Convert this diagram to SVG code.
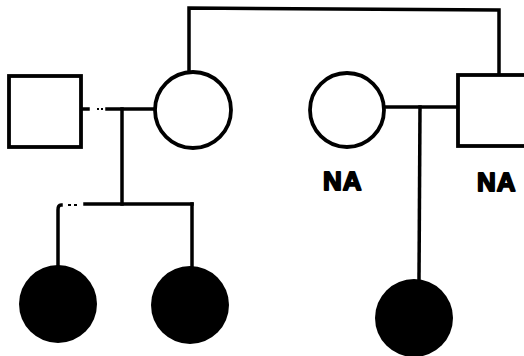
<svg xmlns="http://www.w3.org/2000/svg" width="524" height="356" viewBox="0 0 524 356">
  <style>
    .line { fill: none; stroke: #000; stroke-width: 3.5; stroke-linecap: square; }
    .dot { fill: none; stroke: #000; stroke-width: 2; }
    .open { fill: #fff; stroke: #000; stroke-width: 3.8; }
    .filled { fill: #000; stroke: none; }
    .label { font-family: "Liberation Sans", Arial, sans-serif; font-weight: bold; font-size: 26px; letter-spacing: 1px; fill: #000; stroke: #000; stroke-width: 1.8; stroke-linejoin: round; }
  </style>
  <rect width="524" height="356" fill="#fff"/>

  <g id="connectors">
    <!-- sibling line joining the two generation-I individuals -->
    <polyline class="line" points="189,70 189,8 499,10 499,74"/>
    <!-- mating line (left couple), with a broken segment -->
    <line class="line" x1="82" y1="109" x2="88" y2="109"/>
    <line class="dot" x1="97" y1="109" x2="99" y2="109"/>
    <line class="dot" x1="101" y1="109" x2="103" y2="109"/>
    <line class="line" x1="107" y1="109" x2="154" y2="109"/>
    <!-- descent line to sibship -->
    <line class="line" x1="122" y1="109" x2="122" y2="204"/>
    <!-- sibship line -->
    <line class="line" x1="85" y1="204" x2="192" y2="204"/>
    <line class="dot" x1="68" y1="205" x2="71" y2="205"/>
    <line class="dot" x1="74" y1="205" x2="77" y2="205"/>
    <path class="line" d="M58,265 L58,210 Q58,205 61,205"/>
    <line class="line" x1="192" y1="204" x2="192" y2="266"/>
    <!-- mating line (right couple) -->
    <line class="line" x1="385" y1="107" x2="458" y2="107"/>
    <!-- descent line to child -->
    <line class="line" x1="420" y1="107" x2="419" y2="280"/>
  </g>

  <g id="male-1">
    <rect class="open" x="9" y="76" width="72" height="71"/>
  </g>
  <g id="female-1">
    <circle class="open" cx="193" cy="110" r="38"/>
  </g>
  <g id="female-2">
    <circle class="open" cx="347" cy="110" r="37"/>
    <text class="label" x="323" y="190">NA</text>
  </g>
  <g id="male-2">
    <rect class="open" x="458" y="75" width="72" height="71"/>
    <text class="label" x="477" y="191">NA</text>
  </g>
  <g id="daughter-1">
    <circle class="filled" cx="58" cy="304" r="39"/>
  </g>
  <g id="daughter-2">
    <circle class="filled" cx="190" cy="305" r="39"/>
  </g>
  <g id="daughter-3">
    <circle class="filled" cx="414" cy="318" r="39"/>
  </g>
</svg>
